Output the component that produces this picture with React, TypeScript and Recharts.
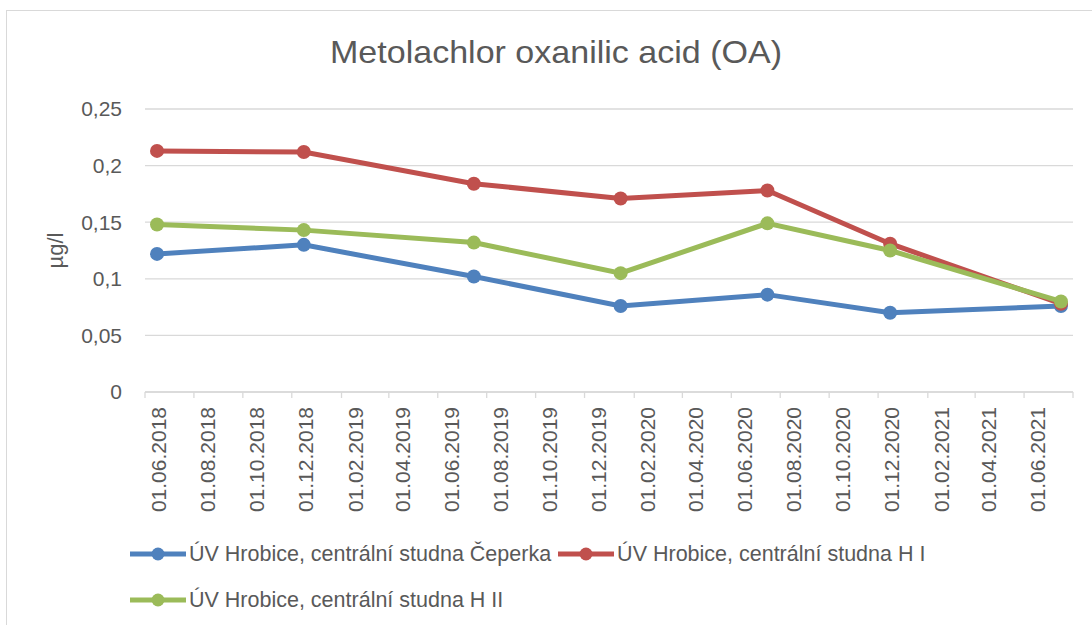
import React from "react";
import { LineChart, Line, XAxis, YAxis, CartesianGrid, Legend } from "recharts";

const FONT = "'Liberation Sans', Arial, sans-serif";
const TEXT = "#595959";
const GRID = "#d9d9d9";

// sampling dates (dd.mm.yyyy) and values in µg/l
const DATES = ["16.06.2018", "16.12.2018", "16.07.2019", "15.01.2020", "16.07.2020", "16.12.2020", "17.07.2021"];
const CEPERKA = [0.122, 0.130, 0.102, 0.076, 0.086, 0.070, 0.076];
const H_I = [0.213, 0.212, 0.184, 0.171, 0.178, 0.131, 0.078];
const H_II = [0.148, 0.143, 0.132, 0.105, 0.149, 0.125, 0.080];

const X_LABELS = [
  "01.06.2018", "01.08.2018", "01.10.2018", "01.12.2018", "01.02.2019", "01.04.2019", "01.06.2019",
  "01.08.2019", "01.10.2019", "01.12.2019", "01.02.2020", "01.04.2020", "01.06.2020", "01.08.2020",
  "01.10.2020", "01.12.2020", "01.02.2021", "01.04.2021", "01.06.2021",
];
const X_END = "01.08.2021";
const Y_TICKS = [0, 0.05, 0.1, 0.15, 0.2, 0.25];

const SERIES = [
  { key: "ceperka", name: "ÚV Hrobice, centrální studna Čeperka", color: "#4f81bd" },
  { key: "hi", name: "ÚV Hrobice, centrální studna H I", color: "#c0504d" },
  { key: "hii", name: "ÚV Hrobice, centrální studna H II", color: "#9bbb59" },
];

const toTime = (s: string) => {
  const [d, m, y] = s.split(".").map(Number);
  return Date.UTC(y, m - 1, d);
};

const data = DATES.map((d, i) => ({ t: toTime(d), ceperka: CEPERKA[i], hi: H_I[i], hii: H_II[i] }));
const xTicks = [...X_LABELS, X_END].map(toTime);
const labelByTime: Record<number, string> = {};
X_LABELS.forEach(l => { labelByTime[toTime(l)] = l; });

const DateTick = (props: any) => {
  const { x, y, payload } = props;
  const label = labelByTime[payload.value];
  if (!label) return null;
  return (
    <g transform={`translate(${x + 21},${y + 7}) rotate(-90)`}>
      <text textAnchor="end" fill={TEXT} fontSize={21} fontFamily={FONT}>{label}</text>
    </g>
  );
};

const LegendContent = () => (
  <div style={{ display: "flex", flexWrap: "wrap", width: 830, fontFamily: FONT, fontSize: 21.5, color: TEXT }}>
    {SERIES.map(s => (
      <div key={s.key} style={{ display: "flex", alignItems: "center", height: 46, marginRight: 7 }}>
        <svg width={56} height={14}>
          <line x1={0} y1={7} x2={56} y2={7} stroke={s.color} strokeWidth={5} strokeLinecap="round" />
          <circle cx={28} cy={7} r={6.5} fill={s.color} />
        </svg>
        <span style={{ marginLeft: 3, whiteSpace: "nowrap" }}>{s.name}</span>
      </div>
    ))}
  </div>
);

export default function App() {
  return (
    <div style={{ position: "absolute", left: 0, top: 0, width: 1092, height: 625, overflow: "hidden", background: "#fff" }}>
      <div style={{ position: "absolute", left: 6, top: 10, width: 1200, height: 700, border: `1.5px solid ${GRID}` }} />
      <svg style={{ position: "absolute", left: 0, top: 0 }} width={1092} height={80}>
        <text x={556} y={63} textAnchor="middle" fill={TEXT} fontSize={32} fontFamily={FONT} textLength={452} lengthAdjust="spacingAndGlyphs">
          Metolachlor oxanilic acid (OA)
        </text>
      </svg>
      <div style={{ position: "absolute", left: 0, top: 0 }}>
        <LineChart width={1092} height={625} data={data} margin={{ top: 109, right: 19, bottom: 203, left: 0 }}>
          <CartesianGrid vertical={false} stroke={GRID} strokeWidth={1.3} />
          <XAxis
            dataKey="t"
            type="number"
            scale="time"
            domain={[toTime(X_LABELS[0]), toTime(X_END)]}
            ticks={xTicks}
            interval={0}
            height={30}
            axisLine={{ stroke: GRID, strokeWidth: 1.3 }}
            tickLine={{ stroke: GRID, strokeWidth: 1.3 }}
            tickSize={6}
            tick={<DateTick />}
          />
          <YAxis
            width={145}
            domain={[0, 0.25]}
            ticks={Y_TICKS}
            axisLine={false}
            tickLine={false}
            tickSize={0}
            tickMargin={23}
            tick={{ fill: TEXT, fontSize: 21, fontFamily: FONT }}
            tickFormatter={(v: number) => String(v).replace(".", ",")}
            label={{
              content: (p: any) => {
                const vb = p.viewBox;
                const cy = vb.y + vb.height / 2;
                return (
                  <text x={63} y={cy} transform={`rotate(-90, 63, ${cy})`} textAnchor="middle" fill={TEXT} fontSize={22} fontFamily={FONT}>
                    µg/l
                  </text>
                );
              },
            }}
          />
          <Legend
            layout="horizontal"
            verticalAlign="middle"
            align="center"
            content={<LegendContent />}
            wrapperStyle={{ left: 130, top: 531, width: 830 }}
          />
          {SERIES.map(s => (
            <Line
              key={s.key}
              dataKey={s.key}
              name={s.name}
              type="linear"
              stroke={s.color}
              strokeWidth={5}
              dot={{ r: 7, fill: s.color, stroke: s.color, strokeWidth: 0 }}
              activeDot={false}
              isAnimationActive={false}
            />
          ))}
        </LineChart>
      </div>
    </div>
  );
}
